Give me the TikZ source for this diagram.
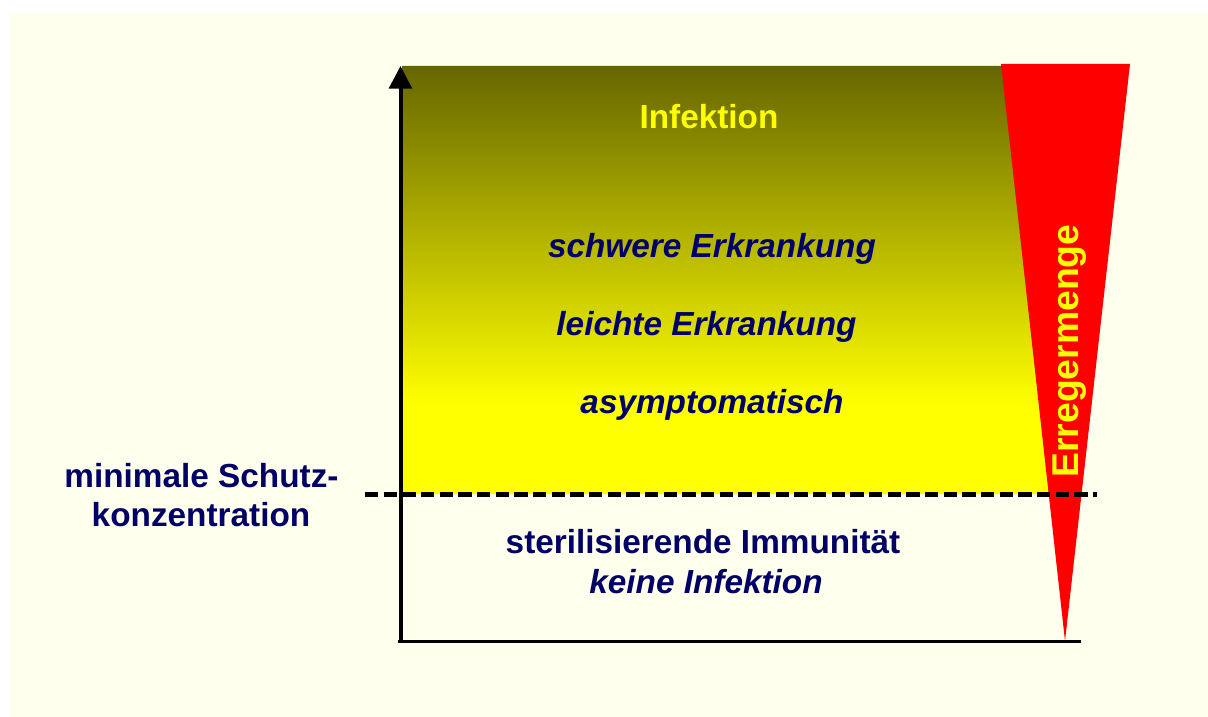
\documentclass[tikz,border=0pt]{standalone}
\usepackage{fontspec}
\setmainfont{Liberation Sans}
\usetikzlibrary{arrows.meta}
\definecolor{cream}{RGB}{255,255,238}
\definecolor{navy}{RGB}{0,0,102}
\definecolor{olv}{RGB}{102,102,0}
\definecolor{ylw}{RGB}{255,255,0}
\definecolor{redtri}{RGB}{255,0,0}
\pgfdeclareverticalshading{infgrad}{100bp}{color(0bp)=(ylw); color(35.5bp)=(ylw); color(75bp)=(olv); color(100bp)=(olv)}
\begin{document}
\begin{tikzpicture}[x=0.75pt,y=-0.75pt,
  lbl/.style={font=\fontsize{25}{30}\selectfont\bfseries, text=navy, inner sep=0pt, anchor=base},
  lbli/.style={lbl, font=\fontsize{25}{30}\selectfont\bfseries\itshape},
  axisline/.style={draw=black, line width=3pt},
  dashline/.style={draw=black, line width=3.75pt, dash pattern=on 10pt off 4pt}]
\useasboundingbox (0,0) rectangle (1208,717);
\fill[white] (0,0) rectangle (1208,717);
\fill[cream] (10,13) rectangle (1208,717);
% gradient region
\shade[shading=infgrad] (402,66) -- (1012,66) -- (1050,494) -- (402,494) -- cycle;
% red triangle
\fill[redtri] (1001,64) -- (1130,64) -- (1065,641) -- cycle;
% axes
\coordinate (origin) at (400.5,643);
\coordinate (ytop) at (400.5,66);
\coordinate (xend) at (1081,641.5);
\coordinate (xstart) at (398,641.5);
\draw[axisline, -{Triangle[length=17pt,width=17pt]}] (origin) -- (ytop);
\draw[draw=black, line width=2.4pt] (xstart) -- (xend);
% dashed threshold
\coordinate (dl) at (365,494);
\coordinate (dr) at (1097,494);
\draw[dashline] (dl) -- (dr);
% texts
\node[lbl, text=ylw] (inf) at (709,128) {Infektion};
\node[lbli] (schwer) at (712,257) {schwere Erkrankung};
\node[lbli] (leicht) at (706.5,335) {leichte Erkrankung};
\node[lbli] (asym) at (712,413) {asymptomatisch};
\node[lbl] (steril) at (703,553) {sterilisierende Immunität};
\node[lbli] (keine) at (706,593) {keine Infektion};
\node[lbl] (min1) at (201.5,487) {minimale Schutz-};
\node[lbl] (min2) at (201,526) {konzentration};
\node[lbl, text=ylw, rotate=90, font=\fontsize{28}{33}\selectfont\bfseries] (erreg) at (1078,351) {Erregermenge};
\end{tikzpicture}
\end{document}
